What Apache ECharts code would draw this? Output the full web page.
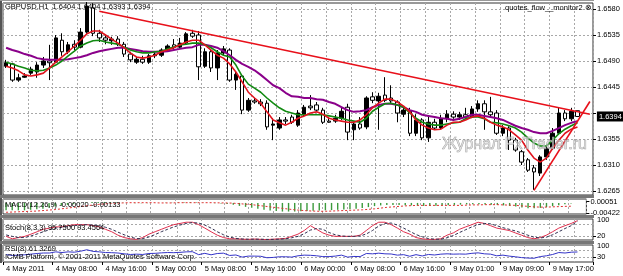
<!DOCTYPE html>
<html><head><meta charset="utf-8">
<script src="https://cdn.jsdelivr.net/npm/echarts@6/dist/echarts.min.js"></script>
<style>html,body{margin:0;padding:0;background:#fff;overflow:hidden}#c{width:623px;height:276px}</style>
</head><body><div id="c"></div>
<script>
// ---------- data ----------
const symbolTitle = 'GBPUSD,H1  1.6404 1.6404 1.6393 1.6394';
const sessions = [['4 May', 0, 23], ['5 May', 0, 23], ['6 May', 0, 23], ['9 May', 1, 23]];
const tickLabels = ['4 May 2011', '4 May 08:00', '4 May 16:00', '5 May 00:00', '5 May 08:00', '5 May 16:00',
  '6 May 00:00', '6 May 08:00', '6 May 16:00', '9 May 01:00', '9 May 09:00', '9 May 17:00'];

const openP = [1.6481,1.6485,1.6457,1.6462,1.6469,1.6471,1.6483,1.6490,1.6488,1.6526,
 1.6506,1.6519,1.6514,1.6540,1.6582,1.6538,1.6530,1.6525,1.6528,1.6519,
 1.6502,1.6488,1.6493,1.6488,1.6499,1.6500,1.6509,1.6518,1.6514,1.6521,
 1.6538,1.6535,1.6481,1.6506,1.6478,1.6504,1.6509,1.6457,1.6464,1.6405,
 1.6421,1.6419,1.6417,1.6379,1.6374,1.6388,1.6393,1.6379,1.6397,1.6412,
 1.6414,1.6405,1.6386,1.6386,1.6391,1.6410,1.6371,1.6381,1.6376,1.6428,
 1.6421,1.6431,1.6426,1.6419,1.6398,1.6403,1.6365,1.6388,1.6357,1.6384,
 1.6374,1.6391,1.6398,1.6393,1.6397,1.6393,1.6407,1.6416,1.6402,1.6400,
 1.6365,1.6374,1.6353,1.6333,1.6319,1.6305,1.6296,1.6324,1.6339,1.6365,
 1.6400,1.6390,1.6404];
const closeP = [1.6487,1.6457,1.6461,1.6464,1.6476,1.6483,1.6490,1.6487,1.6530,1.6506,
 1.6518,1.6514,1.6540,1.6585,1.6538,1.6530,1.6526,1.6528,1.6519,1.6502,
 1.6492,1.6493,1.6488,1.6499,1.6502,1.6509,1.6516,1.6514,1.6521,1.6537,
 1.6533,1.6480,1.6506,1.6478,1.6504,1.6511,1.6457,1.6467,1.6405,1.6422,
 1.6419,1.6416,1.6376,1.6381,1.6388,1.6386,1.6384,1.6400,1.6410,1.6409,
 1.6405,1.6384,1.6384,1.6391,1.6403,1.6367,1.6381,1.6374,1.6426,1.6422,
 1.6429,1.6422,1.6421,1.6400,1.6405,1.6365,1.6388,1.6357,1.6384,1.6374,
 1.6391,1.6398,1.6393,1.6397,1.6393,1.6407,1.6416,1.6402,1.6397,1.6365,
 1.6374,1.6353,1.6336,1.6315,1.6301,1.6298,1.6324,1.6339,1.6365,1.6400,
 1.6390,1.6403,1.6394];
const lowP = [1.6478,1.6454,1.6454,1.6461,1.6466,1.6461,1.6478,1.6457,1.6487,1.6499,
 1.6502,1.6509,1.6512,1.6537,1.6533,1.6523,1.6519,1.6518,1.6516,1.6497,
 1.6488,1.6485,1.6485,1.6485,1.6495,1.6497,1.6506,1.6509,1.6512,1.6518,
 1.6530,1.6457,1.6478,1.6471,1.6457,1.6500,1.6454,1.6440,1.6398,1.6402,
 1.6416,1.6412,1.6371,1.6353,1.6371,1.6381,1.6381,1.6376,1.6393,1.6405,
 1.6402,1.6381,1.6383,1.6383,1.6388,1.6353,1.6353,1.6371,1.6372,1.6417,
 1.6371,1.6419,1.6416,1.6384,1.6393,1.6360,1.6360,1.6353,1.6350,1.6371,
 1.6371,1.6384,1.6390,1.6388,1.6390,1.6391,1.6402,1.6371,1.6393,1.6362,
 1.6360,1.6336,1.6333,1.6310,1.6298,1.6267,1.6291,1.6319,1.6336,1.6362,
 1.6386,1.6386,1.6393];
const highP = [1.6492,1.6487,1.6468,1.6469,1.6480,1.6488,1.6497,1.6518,1.6535,1.6538,
 1.6523,1.6526,1.6547,1.6592,1.6590,1.6544,1.6535,1.6532,1.6533,1.6523,
 1.6506,1.6497,1.6499,1.6502,1.6507,1.6512,1.6519,1.6528,1.6530,1.6540,
 1.6544,1.6542,1.6512,1.6509,1.6509,1.6516,1.6512,1.6471,1.6467,1.6426,
 1.6426,1.6424,1.6422,1.6391,1.6393,1.6393,1.6397,1.6405,1.6414,1.6431,
 1.6419,1.6409,1.6393,1.6397,1.6409,1.6416,1.6383,1.6393,1.6429,1.6436,
 1.6435,1.6462,1.6448,1.6422,1.6410,1.6409,1.6398,1.6391,1.6395,1.6390,
 1.6397,1.6405,1.6403,1.6402,1.6409,1.6412,1.6422,1.6422,1.6428,1.6405,
 1.6379,1.6377,1.6357,1.6336,1.6322,1.6310,1.6327,1.6345,1.6374,1.6410,
 1.6405,1.6409,1.6404];

const maFast = [1.6481,1.6478,1.6473,1.6466,1.6464,1.6466,1.6469,1.6478,1.6488,1.6497,
 1.6506,1.6516,1.6526,1.6537,1.6542,1.6542,1.6535,1.6528,1.6521,1.6513,
 1.6504,1.6497,1.6495,1.6497,1.6500,1.6506,1.6509,1.6513,1.6518,1.6523,
 1.6526,1.6526,1.6518,1.6509,1.6500,1.6495,1.6485,1.6471,1.6454,1.6436,
 1.6426,1.6417,1.6402,1.6388,1.6383,1.6379,1.6384,1.6391,1.6395,1.6400,
 1.6402,1.6398,1.6391,1.6388,1.6386,1.6384,1.6384,1.6388,1.6397,1.6409,
 1.6417,1.6424,1.6424,1.6419,1.6412,1.6402,1.6388,1.6379,1.6374,1.6371,
 1.6372,1.6379,1.6384,1.6384,1.6388,1.6393,1.6395,1.6391,1.6384,1.6379,
 1.6376,1.6371,1.6362,1.6353,1.6336,1.6322,1.6315,1.6322,1.6339,1.6353,
 1.6365,1.6372,1.6376];
const maMid = [1.6488,1.6485,1.6481,1.6478,1.6474,1.6473,1.6474,1.6478,1.6483,1.6490,
 1.6499,1.6507,1.6516,1.6521,1.6525,1.6526,1.6523,1.6521,1.6519,1.6514,
 1.6509,1.6506,1.6504,1.6504,1.6506,1.6507,1.6511,1.6514,1.6518,1.6519,
 1.6521,1.6521,1.6518,1.6513,1.6506,1.6500,1.6497,1.6483,1.6464,1.6450,
 1.6443,1.6436,1.6426,1.6417,1.6409,1.6403,1.6400,1.6397,1.6397,1.6397,
 1.6397,1.6397,1.6395,1.6393,1.6391,1.6388,1.6386,1.6384,1.6391,1.6403,
 1.6410,1.6416,1.6417,1.6414,1.6410,1.6400,1.6391,1.6384,1.6381,1.6379,
 1.6379,1.6381,1.6383,1.6384,1.6390,1.6393,1.6393,1.6390,1.6384,1.6383,
 1.6381,1.6378,1.6374,1.6367,1.6357,1.6348,1.6343,1.6343,1.6353,1.6364,
 1.6372,1.6378,1.6383];
const maSlow = [1.6513,1.6509,1.6506,1.6502,1.6499,1.6495,1.6493,1.6492,1.6492,1.6492,
 1.6493,1.6495,1.6497,1.6500,1.6504,1.6507,1.6509,1.6511,1.6513,1.6513,
 1.6511,1.6509,1.6507,1.6506,1.6506,1.6506,1.6507,1.6509,1.6511,1.6513,
 1.6514,1.6518,1.6518,1.6516,1.6513,1.6507,1.6500,1.6492,1.6485,1.6480,
 1.6474,1.6466,1.6457,1.6448,1.6443,1.6435,1.6429,1.6428,1.6426,1.6426,
 1.6424,1.6423,1.6419,1.6416,1.6410,1.6405,1.6402,1.6403,1.6405,1.6410,
 1.6414,1.6416,1.6416,1.6414,1.6410,1.6405,1.6402,1.6397,1.6395,1.6393,
 1.6391,1.6390,1.6388,1.6390,1.6393,1.6397,1.6397,1.6395,1.6393,1.6391,
 1.6388,1.6383,1.6378,1.6374,1.6371,1.6367,1.6365,1.6365,1.6369,1.6374,
 1.6379,1.6383,1.6386];

const macdMain = [-0.0030,-0.0030,-0.0030,-0.0030,-0.0028,-0.0026,-0.0024,-0.0020,-0.0015,-0.0011,
 -0.0008,-0.0005,-0.0002,0.0002,0.0004,0.0004,0.0004,0.0003,0.0002,0.0001,
 0.0000,-0.0001,-0.0001,-0.0001,0.0000,0.0000,0.0001,0.0001,0.0002,0.0002,
 0.0003,0.0002,0.0001,0.0000,-0.0001,-0.0002,-0.0004,-0.0007,-0.0012,-0.0016,
 -0.0020,-0.0024,-0.0028,-0.0031,-0.0033,-0.0035,-0.0035,-0.0035,-0.0034,-0.0033,
 -0.0032,-0.0031,-0.0030,-0.0029,-0.0028,-0.0027,-0.0026,-0.0024,-0.0021,-0.0017,
 -0.0013,-0.0010,-0.0008,-0.0008,-0.0008,-0.0009,-0.0010,-0.0011,-0.0012,-0.0012,
 -0.0011,-0.0010,-0.0009,-0.0008,-0.0007,-0.0006,-0.0005,-0.0005,-0.0006,-0.0007,
 -0.0008,-0.0010,-0.0012,-0.0015,-0.0019,-0.0022,-0.0022,-0.0020,-0.0017,-0.0013,
 -0.0009,-0.0005,-0.0002];
const macdSignal = [-0.0038,-0.0037,-0.0036,-0.0035,-0.0034,-0.0033,-0.0031,-0.0029,-0.0027,-0.0024,
 -0.0021,-0.0018,-0.0015,-0.0012,-0.0009,-0.0006,-0.0004,-0.0002,-0.0001,0.0000,
 0.0001,0.0001,0.0001,0.0001,0.0001,0.0000,0.0000,0.0000,0.0001,0.0001,
 0.0001,0.0001,0.0001,0.0001,0.0001,0.0000,0.0000,-0.0001,-0.0003,-0.0005,
 -0.0007,-0.0010,-0.0013,-0.0016,-0.0019,-0.0022,-0.0025,-0.0028,-0.0030,-0.0032,
 -0.0033,-0.0034,-0.0034,-0.0033,-0.0032,-0.0031,-0.0030,-0.0029,-0.0028,-0.0026,
 -0.0024,-0.0021,-0.0018,-0.0016,-0.0014,-0.0012,-0.0011,-0.0010,-0.0010,-0.0010,
 -0.0010,-0.0010,-0.0010,-0.0010,-0.0010,-0.0009,-0.0008,-0.0008,-0.0007,-0.0007,
 -0.0007,-0.0008,-0.0009,-0.0010,-0.0012,-0.0014,-0.0016,-0.0017,-0.0017,-0.0016,
 -0.0015,-0.0014,-0.00133];

const stochMain = [18,6,12,18,29,41,53,59,65,65,
 71,76,76,76,71,65,53,41,24,12,
 6,3,12,29,41,53,65,76,82,88,
 88,76,59,41,24,12,6,6,4,3,
 5,3,2,4,6,8,18,29,47,71,
 53,35,24,18,18,18,18,24,47,71,
 88,88,76,59,41,29,12,6,3,3,
 6,24,35,53,65,76,88,82,71,59,
 53,47,35,24,12,6,12,24,41,59,
 71,82,95.75];
const stochSignal = [25,18,12,12,20,30,41,51,59,63,
 67,71,74,76,74,71,63,53,39,26,
 14,7,7,15,27,41,53,65,74,82,
 86,84,74,59,41,26,14,8,5,4,
 4,4,3,3,4,6,11,18,31,49,
 57,53,37,26,20,18,18,20,30,47,
 69,82,84,74,59,43,27,16,7,4,
 4,11,22,37,51,65,76,82,80,71,
 61,53,45,35,24,14,10,14,26,41,
 57,71,93.46];
const rsiValues = [45,40,42,44,48,52,55,55,62,58,
 62,60,66,75,65,62,58,57,55,50,
 46,48,46,52,53,56,58,57,59,62,
 63,45,53,44,52,54,40,43,30,36,
 36,35,26,28,32,32,30,38,42,41,
 38,33,33,36,42,30,34,33,52,50,
 54,50,49,42,45,35,45,37,46,43,
 48,50,48,49,48,53,56,50,48,38,
 42,36,32,27,24,23,33,38,46,58,
 55,60,61.33];

const priceTicks = [1.6265, 1.6310, 1.6355, 1.6400, 1.6445, 1.6490, 1.6535, 1.6580];
const priceLabels = [1.6265, 1.6310, 1.6355, 1.6445, 1.6490, 1.6535, 1.6580];
const lastPrice = 1.6394;
const macdLabels = [-0.00422, 0.00051];
const stochLevels = [20, 80];
const stochLabels = [20, 80, 100];
const rsiLevels = [30, 70];
const rsiLabels = [30, 70, 100];
// trend lines: [barIndex, price] anchors
const trendLines = [
  [[15, 1.6576], [94, 1.6398]],
  [[85, 1.6266], [94, 1.6420]]
];

// ---------- build ----------
const categories = [];
sessions.forEach(([d, a, b]) => { for (let h = a; h <= b; h++) categories.push(d + ' ' + (h < 10 ? '0' : '') + h + ':00'); });
const candles = openP.map((o, i) => [o, closeP[i], lowP[i], highP[i]]);

const FONT = '"Liberation Sans", Arial, sans-serif';
const GRID_L = 3, GRID_W = 590;
const grids = [
  { left: GRID_L, width: GRID_W, top: 3, height: 192 },
  { left: GRID_L, width: GRID_W, top: 199, height: 15 },
  { left: GRID_L, width: GRID_W, top: 219, height: 21 },
  { left: GRID_L, width: GRID_W, top: 245, height: 17 }
].map(g => Object.assign({ show: true, borderColor: '#333', borderWidth: 1, backgroundColor: '#fff' }, g));

const dash = { color: '#a8a8a8', width: 1, type: [2, 2] };
function xAx(gi, withLabels) {
  return {
    type: 'category', gridIndex: gi, data: categories, boundaryGap: true,
    axisLine: { show: false },
    axisTick: withLabels ? { show: true, length: 3, interval: (i) => i % 8 === 0, lineStyle: { color: '#000' } } : { show: false },
    axisLabel: withLabels ? {
      show: true, interval: (i) => i % 8 === 0 && i / 8 < tickLabels.length,
      formatter: (v, i) => tickLabels[i / 8], align: 'left', fontSize: 7.5, fontFamily: FONT, color: '#000', margin: 3
    } : { show: false },
    splitLine: { show: true, interval: (i) => i % 4 === 0, lineStyle: dash }
  };
}
function yAx(gi, min, max, ticks, labels, fmt) {
  return {
    type: 'value', gridIndex: gi, position: 'right', min: min, max: max, scale: true,
    axisLine: { show: false },
    axisTick: { show: true, length: 3, customValues: ticks, lineStyle: { color: '#000' } },
    axisLabel: { show: true, customValues: labels, formatter: fmt, fontSize: 7.5, fontFamily: FONT, color: '#000', margin: 4,
      showMinLabel: true, showMaxLabel: true, hideOverlap: false },
    splitLine: { show: true, lineStyle: dash }
  };
}

const markData = [
  [{ yAxis: lastPrice, lineStyle: { color: '#8f9aaa', width: 1, type: 'solid' }, label: { show: false } }, { yAxis: lastPrice }]
];
trendLines.forEach(t => markData.push([
  { coord: t[0], lineStyle: { color: '#e8101a', width: 1.6, type: 'solid' }, label: { show: false } },
  { coord: t[1] }
]));

const option = {
  animation: false,
  backgroundColor: '#fff',
  grid: grids,
  xAxis: [xAx(0, false), xAx(1, false), xAx(2, false), xAx(3, true)],
  yAxis: [
    yAx(0, 1.62581, 1.65904, priceTicks, priceLabels, v => Number(v).toFixed(4)),
    Object.assign(yAx(1, -0.0045, 0.0016, macdLabels, macdLabels, v => Number(v).toFixed(5)), { splitLine: { show: false } }),
    yAx(2, 0, 104, stochLevels, stochLabels, v => String(v)),
    yAx(3, 0, 104, rsiLevels, rsiLabels, v => String(v))
  ],
  series: [
    {
      type: 'candlestick', xAxisIndex: 0, yAxisIndex: 0, data: candles, barWidth: 4,
      itemStyle: { color: '#000', color0: '#fff', borderColor: '#000', borderColor0: '#000', borderWidth: 1 },
      markLine: { silent: true, symbol: 'none', animation: false, data: markData }
    },
    { type: 'line', xAxisIndex: 0, yAxisIndex: 0, data: maSlow, symbol: 'none', lineStyle: { color: '#8a008a', width: 2 }, z: 3 },
    { type: 'line', xAxisIndex: 0, yAxisIndex: 0, data: maMid, symbol: 'none', lineStyle: { color: '#118a11', width: 1.6 }, z: 3 },
    { type: 'line', xAxisIndex: 0, yAxisIndex: 0, data: maFast, symbol: 'none', lineStyle: { color: '#e0141e', width: 1.6 }, z: 3 },
    { type: 'line', xAxisIndex: 0, yAxisIndex: 0, data: [], markPoint: { silent: true, symbol: 'rect', symbolSize: [0, 0],
      data: [{ coord: [categories.length - 1, lastPrice], label: { show: true, position: 'right', distance: 7, formatter: lastPrice.toFixed(4),
        color: '#fff', backgroundColor: '#000', padding: [1, 2, 1, 2], fontSize: 7.5, fontFamily: FONT } }] } },
    { type: 'bar', xAxisIndex: 1, yAxisIndex: 1, data: macdMain, barWidth: 1.4, itemStyle: { color: '#3c9a3c' } },
    { type: 'line', xAxisIndex: 1, yAxisIndex: 1, data: macdSignal, symbol: 'none', lineStyle: { color: '#e03030', width: 1, type: [2, 2] } },
    { type: 'line', xAxisIndex: 2, yAxisIndex: 2, data: stochMain, symbol: 'none', lineStyle: { color: '#e0304e', width: 1 } },
    { type: 'line', xAxisIndex: 2, yAxisIndex: 2, data: stochSignal, symbol: 'none', lineStyle: { color: '#303050', width: 1, type: [3, 2] } },
    { type: 'line', xAxisIndex: 3, yAxisIndex: 3, data: rsiValues, symbol: 'none', lineStyle: { color: '#3434c8', width: 1 } }
  ],
  graphic: [
    { type: 'rect', shape: { x: 0, y: 0, width: 2, height: 263 }, style: { fill: '#555' }, silent: true, z: 100 },
    { type: 'rect', shape: { x: 0, y: 0, width: 594, height: 1 }, style: { fill: '#999' }, silent: true, z: 100 },
    { type: 'rect', shape: { x: 0, y: 195, width: 594, height: 3 }, style: { fill: '#777' }, silent: true, z: 100 },
    { type: 'rect', shape: { x: 0, y: 215, width: 594, height: 3 }, style: { fill: '#777' }, silent: true, z: 100 },
    { type: 'rect', shape: { x: 0, y: 241, width: 594, height: 3 }, style: { fill: '#777' }, silent: true, z: 100 },
    { type: 'text', x: 5, y: 3, style: { text: symbolTitle, fontSize: 7.5, fontFamily: FONT, fill: '#000' }, z: 100 },
    { type: 'text', x: 505, y: 4, style: { text: 'quotes_flow__monitor2 ⊗', fontSize: 7.5, fontFamily: FONT, fill: '#000' }, z: 100 },
    { type: 'text', x: 442, y: 137, style: { text: 'Журнал FxTrader.ru', fontSize: 16, fontFamily: FONT, fill: 'rgba(215,215,215,0.55)', stroke: '#9a9a9a', lineWidth: 0.6 }, z: 100 },
    { type: 'text', x: 5, y: 201, style: { text: 'MACD(12,26,9) -0.00020 -0.00133', fontSize: 7.5, fontFamily: FONT, fill: '#000' }, z: 100 },
    { type: 'text', x: 5, y: 224, style: { text: 'Stoch(8,3,3) 95.7500 93.4564', fontSize: 7.5, fontFamily: FONT, fill: '#000' }, z: 100 },
    { type: 'text', x: 5, y: 245, style: { text: 'RSI(8) 61.3269', fontSize: 7.5, fontFamily: FONT, fill: '#000' }, z: 100 },
    { type: 'text', x: 5, y: 253, style: { text: 'ICMB Platform, © 2001-2011 MetaQuotes Software Corp.', fontSize: 7.5, fontFamily: FONT, fill: '#000' }, z: 100 }
  ]
};
const chart = echarts.init(document.getElementById('c'), null, { renderer: 'canvas' });
chart.setOption(option);
</script>
</body></html>
